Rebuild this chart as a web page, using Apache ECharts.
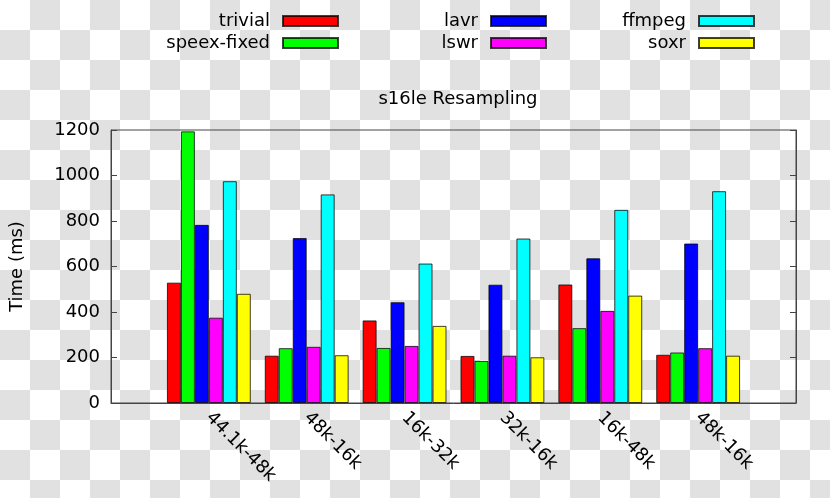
<!DOCTYPE html>
<html><head><meta charset="utf-8">
<script src="https://cdn.jsdelivr.net/npm/echarts@6/dist/echarts.min.js"></script>
<style>
html,body{margin:0;padding:0;}
#c{width:830px;height:498px;background-color:#fff;background-image:conic-gradient(#e1e1e1 0 25%, #fff 0 50%, #e1e1e1 0 75%, #fff 0);background-size:60px 60px;background-position:0 0;}
</style></head>
<body><div id="c"></div>
<script>
const categories = ['44.1k-48k','48k-16k','16k-32k','32k-16k','16k-48k','48k-16k'];
const seriesNames = ['trivial','speex-fixed','lavr','lswr','ffmpeg','soxr'];
const trivial     = [529, 208, 363, 207, 521, 212];
const speexFixed  = [1194, 241, 242, 185, 329, 222];
const lavr        = [783, 725, 443, 520, 636, 701];
const lswr        = [375, 247, 251, 208, 405, 241];
const ffmpeg      = [975, 917, 613, 723, 849, 931];
const soxr        = [480, 210, 339, 201, 472, 208];
const yTicks = [0, 200, 400, 600, 800, 1000, 1200];

const values = [trivial, speexFixed, lavr, lswr, ffmpeg, soxr];
const colors = ['#ff0000','#00ff00','#0000ff','#ff00ff','#00ffff','#ffff00'];
const font = 'DejaVu Sans';
// pad categories so groups sit at integer positions with a one-slot margin each side
const xCats = [''].concat(categories, ['']);

const series = seriesNames.map((n, i) => ({
  name: n, type: 'bar',
  data: [null].concat(values[i], [null]),
  barGap: '0%', barCategoryGap: '14.2857%',
  itemStyle: { color: colors[i], borderColor: 'rgba(0,0,0,0.75)', borderWidth: 1 },
  emphasis: { disabled: true },
  animation: false
}));

function legend(names, right) {
  return {
    data: names, orient: 'vertical', right: right, top: 7, align: 'right',
    itemWidth: 55, itemHeight: 10, itemGap: 4, icon: 'rect',
    textStyle: { fontFamily: font, fontSize: 18, color: '#000', lineHeight: 18, padding: [0, 8, 0, 0] },
    selectedMode: false
  };
}

const chart = echarts.init(document.getElementById('c'), null, { renderer: 'canvas' });
chart.setOption({
  animation: false,
  backgroundColor: 'transparent',
  textStyle: { fontFamily: font },
  title: {
    text: 's16le Resampling', left: 453, top: 85, textAlign: 'center',
    textStyle: { fontFamily: font, fontSize: 18, fontWeight: 'normal', color: '#000' }
  },
  legend: [
    legend(['trivial','speex-fixed'], 486),
    legend(['lavr','lswr'], 278),
    legend(['ffmpeg','soxr'], 70)
  ],
  grid: { left: 110, right: 34, top: 130, bottom: 95, show: true, borderColor: '#444', borderWidth: 1, backgroundColor: 'transparent' },
  xAxis: {
    type: 'category', data: xCats, boundaryGap: false,
    axisLine: { show: true, lineStyle: { color: '#444', width: 1 } },
    axisTick: { show: false },
    axisLabel: { rotate: -45, margin: 12, interval: 0, fontFamily: font, fontSize: 18, color: '#000' },
    splitLine: { show: false }
  },
  yAxis: [{
    type: 'value', min: yTicks[0], max: yTicks[yTicks.length - 1], interval: yTicks[1] - yTicks[0],
    name: 'Time (ms)', nameLocation: 'middle', nameGap: 85, nameRotate: 90,
    nameTextStyle: { fontFamily: font, fontSize: 18, color: '#000' },
    axisLine: { show: true, lineStyle: { color: '#444', width: 1 } },
    axisTick: { show: true, inside: true, length: 6, lineStyle: { color: '#444' } },
    axisLabel: { margin: 11, fontFamily: font, fontSize: 18, color: '#000', formatter: v => String(v) },
    splitLine: { show: false }
  }, {
    type: 'value', position: 'right', min: yTicks[0], max: yTicks[yTicks.length - 1], interval: yTicks[1] - yTicks[0],
    axisLine: { show: true, lineStyle: { color: '#444', width: 1 } },
    axisTick: { show: true, inside: true, length: 6, lineStyle: { color: '#444' } },
    axisLabel: { show: false },
    splitLine: { show: false }
  }],
  series: series
});
</script>
</body></html>
